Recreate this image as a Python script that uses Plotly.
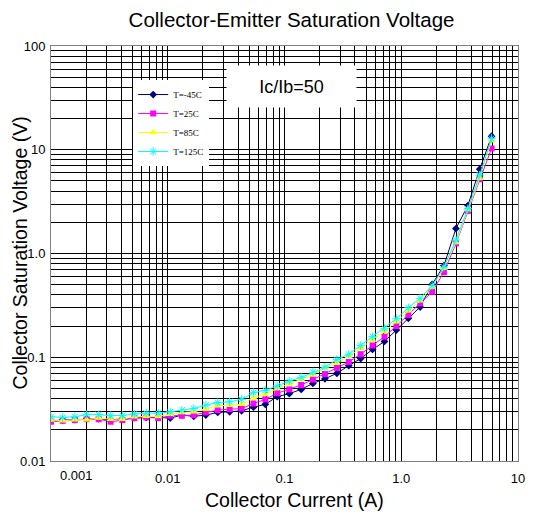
import plotly.graph_objects as go

# Collector current (A)
current = [0.001, 0.00126, 0.0016, 0.00202, 0.00256, 0.00324, 0.00409, 0.00518, 0.00655, 0.00828,
           0.0105, 0.0132, 0.0167, 0.0212, 0.0268, 0.0339, 0.0429, 0.0542, 0.0685, 0.0867,
           0.110, 0.139, 0.175, 0.222, 0.281, 0.355, 0.449, 0.568, 0.718, 0.908,
           1.15, 1.45, 1.84, 2.32, 2.94, 3.72, 4.70, 5.94]

# Collector saturation voltage (V)
vce_m45 = [0.0245, 0.0248, 0.0250, 0.0255, 0.0255, 0.0250, 0.0255, 0.0262, 0.0263, 0.0263,
           0.0259, 0.0277, 0.0270, 0.0277, 0.0294, 0.0298, 0.0305, 0.0330, 0.0352, 0.0417,
           0.0446, 0.049, 0.056, 0.062, 0.070, 0.083, 0.097, 0.119, 0.142, 0.183,
           0.237, 0.305, 0.505, 0.765, 1.74, 2.9, 6.5, 13.5]
vce_25 = [0.0239, 0.0244, 0.0248, 0.0253, 0.0253, 0.0239, 0.0248, 0.0259, 0.0263, 0.0259,
          0.0273, 0.0273, 0.0277, 0.0294, 0.0309, 0.0316, 0.0320, 0.0358, 0.0393, 0.045,
          0.049, 0.054, 0.061, 0.069, 0.079, 0.090, 0.107, 0.130, 0.158, 0.20,
          0.255, 0.33, 0.427, 0.66, 1.25, 2.57, 5.2, 10.3]
vce_85 = [0.0248, 0.0244, 0.0250, 0.0250, 0.0259, 0.0253, 0.0253, 0.0267, 0.0270, 0.0269,
          0.0283, 0.0294, 0.0298, 0.0316, 0.0340, 0.0345, 0.0352, 0.0408, 0.044, 0.050,
          0.0555, 0.061, 0.068, 0.079, 0.088, 0.102, 0.122, 0.147, 0.177, 0.22,
          0.28, 0.35, 0.475, 0.72, 1.28, 2.66, 5.3, 12.2]
vce_125 = [0.0267, 0.0263, 0.0267, 0.0280, 0.0280, 0.0274, 0.0274, 0.0284, 0.0289, 0.0289,
           0.0298, 0.0309, 0.0320, 0.0345, 0.0366, 0.0372, 0.0393, 0.0456, 0.048, 0.053,
           0.059, 0.064, 0.072, 0.080, 0.095, 0.107, 0.130, 0.158, 0.19, 0.235,
           0.30, 0.37, 0.49, 0.74, 1.35, 2.7, 5.7, 12.9]

series_names = ["T=-45C", "T=25C", "T=85C", "T=125C"]
x_tickvals = [0.001, 0.01, 0.1, 1, 10]
x_ticktext = ["", "0.01", "0.1", "1.0", "10"]   # "0.001" is drawn just right of the corner
first_x_label = "0.001"
y_tickvals = [0.01, 0.1, 1, 10, 100]
y_ticktext = ["0.01", "0.1", "1.0", "10", "100"]

styles = [
    dict(color="#000080", symbol="diamond", size=6),
    dict(color="#FF00FF", symbol="square", size=6),
    dict(color="#FFFF00", symbol="triangle-up", size=7),
    dict(color="#00FFFF", symbol="asterisk-open", size=7),
]

fig = go.Figure()
for name, vals, st in zip(series_names, [vce_m45, vce_25, vce_85, vce_125], styles):
    marker = dict(color=st["color"], symbol=st["symbol"], size=st["size"])
    if st["symbol"].endswith("open"):
        marker["line"] = dict(color=st["color"], width=1)
    fig.add_trace(go.Scatter(
        x=current, y=vals, name=name, mode="lines+markers",
        line=dict(color=st["color"], width=1), marker=marker,
    ))

tick_font = dict(family="Liberation Sans", size=13, color="#000000")
title_font = dict(family="Liberation Sans", size=19.5, color="#000000")

axis_common = dict(
    type="log", showline=True, linecolor="#808080", linewidth=1, mirror="allticks",
    ticks="inside", ticklen=5, tickcolor="#000000",
    showgrid=True, gridcolor="#000000", gridwidth=1, zeroline=False,
    tickfont=tick_font,
    minor=dict(dtick="D1", showgrid=True, gridcolor="#000000", gridwidth=1,
               ticks="inside", ticklen=3, tickcolor="#000000"),
)

fig.update_xaxes(range=[-3, 1], tickmode="array", tickvals=x_tickvals, ticktext=x_ticktext,
                 ticklabelstandoff=5, **axis_common)
fig.update_yaxes(range=[-2, 2], tickmode="array", tickvals=y_tickvals, ticktext=y_ticktext,
                 ticklabelstandoff=2, **axis_common)

fig.update_layout(
    width=534, height=517,
    margin=dict(l=51, r=16, t=46, b=56, autoexpand=False),
    paper_bgcolor="white", plot_bgcolor="white",
    title=dict(text="Collector-Emitter Saturation Voltage", x=0.546, xanchor="center",
               y=0.961, yanchor="middle",
               font=dict(family="Liberation Sans", size=20.5, color="#000000")),
    showlegend=True,
    legend=dict(x=0.176, y=0.918, xanchor="left", yanchor="top", bgcolor="white",
                borderwidth=0, font=dict(family="Liberation Serif", size=9, color="#000000"),
                tracegroupgap=0, itemwidth=30),
    annotations=[
        dict(text="Ic/Ib=50", xref="paper", yref="paper", x=0.515, y=0.902,
             xanchor="center", yanchor="middle", showarrow=False,
             bgcolor="white", width=127, height=39,
             font=dict(family="Liberation Sans", size=18, color="#000000")),
        dict(text="Collector Saturation Voltage (V)", xref="paper", yref="paper",
             x=-0.0685, y=0.5, xanchor="center", yanchor="middle", textangle=-90,
             showarrow=False, font=title_font),
        dict(text="Collector Current (A)", xref="paper", yref="paper",
             x=0.522, y=-0.094, xanchor="center", yanchor="middle",
             showarrow=False, font=title_font),
        dict(text=first_x_label, xref="x", yref="paper", x=-3, y=0,
             xanchor="center", yanchor="middle", xshift=25, yshift=-14, showarrow=False,
             font=tick_font),
    ],
)

fig.write_html(
    "out.html",
    config={"displayModeBar": False},
    post_script="document.body.style.margin='0';document.body.style.padding='0';"
                "document.documentElement.style.overflow='hidden';",
)
